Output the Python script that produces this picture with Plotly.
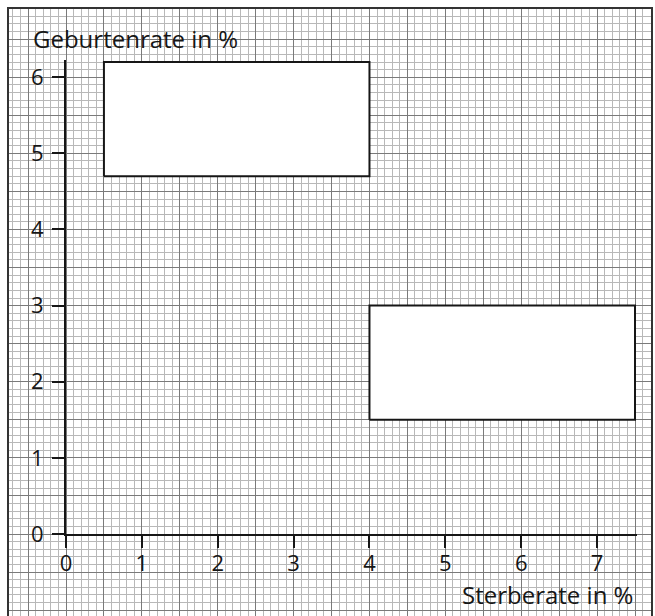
import plotly.graph_objects as go

# ---- data ----
x_tick_values = [0, 1, 2, 3, 4, 5, 6, 7]
y_tick_values = [0, 1, 2, 3, 4, 5, 6]
x_axis_max = 7.5
y_axis_max = 6.2
rect_x_start = [0.5, 4.0]
rect_x_end = [4.0, 7.5]
rect_y_start = [4.7, 1.5]
rect_y_end = [6.2, 3.0]
x_title = "Sterberate in %"
y_title = "Geburtenrate in %"

# ---- layout geometry (target pixels in a 655x616 picture) ----
W, H_TARGET = 655, 616
FIG_H = 630
ky = FIG_H / H_TARGET                 # vertical compensation
L, R = 9, 651
T, B = 9 * ky, FIG_H                  # graph-paper frame
X0PX, X1PX = 66, 635                  # x axis 0 .. 7.5
Y0PX, Y1PX = 534 * ky, 62 * ky        # y axis 0 .. 6.2
sx = (X1PX - X0PX) / x_axis_max
sy = (Y0PX - Y1PX) / y_axis_max
PW, PH = R - L, B - T

def dom_x(px):
    return (px - L) / PW

def dom_y(py):
    return (B - py) / PH

pad = 0.02
gx_range = [(L - X0PX) / sx, (R - X0PX) / sx]
gy_range = [(Y0PX - B) / sy, (Y0PX - T) / sy]

font = "Open Sans, Liberation Sans, sans-serif"
ink = "#161616"

fig = go.Figure()

# empty trace so the graph-paper subplot is created
fig.add_trace(go.Scatter(x=[], y=[], xaxis="x", yaxis="y",
                         hoverinfo="skip", showlegend=False))

# rectangles on the labelled axes
for xs, xe, ys, ye in zip(rect_x_start, rect_x_end, rect_y_start, rect_y_end):
    fig.add_trace(go.Scatter(
        x=[xs, xe, xe, xs, xs], y=[ys, ys, ye, ye, ys],
        mode="lines", fill="toself", fillcolor="white",
        line=dict(color=ink, width=2),
        xaxis="x2", yaxis="y2", hoverinfo="skip", showlegend=False))

fig.update_layout(
    width=W, height=FIG_H,
    autosize=False,
    margin=dict(l=L, r=W - R, t=T, b=FIG_H - B, pad=0),
    paper_bgcolor="white",
    plot_bgcolor="rgba(0,0,0,0)",
    showlegend=False,
    # graph paper
    xaxis=dict(domain=[0, 1], range=gx_range, anchor="y", side="top",
               tick0=0, dtick=0.5, showgrid=True, gridcolor="#7a7a7a", gridwidth=1,
               minor=dict(tick0=0, dtick=0.1, showgrid=True, gridcolor="#b8b8b8", gridwidth=1),
               showticklabels=False, ticks="", zeroline=False,
               showline=True, linecolor="#333", linewidth=2, mirror=False, fixedrange=True),
    yaxis=dict(domain=[0, 1], range=gy_range, anchor="x",
               tick0=0, dtick=0.5, showgrid=True, gridcolor="#7a7a7a", gridwidth=1,
               minor=dict(tick0=0, dtick=0.1, showgrid=True, gridcolor="#b8b8b8", gridwidth=1),
               showticklabels=False, ticks="", zeroline=False,
               showline=True, linecolor="#333", linewidth=2, mirror=True, fixedrange=True),
    # labelled axes
    xaxis2=dict(domain=[dom_x(X0PX), dom_x(X0PX + (x_axis_max + pad) * sx)],
                range=[0, x_axis_max + pad], anchor="y2",
                tickmode="array", tickvals=x_tick_values,
                ticktext=[str(v) for v in x_tick_values],
                ticks="outside", ticklen=12, tickwidth=2, tickcolor=ink,
                ticklabelstandoff=-3,
                showline=True, linecolor=ink, linewidth=2,
                showgrid=False, zeroline=False, fixedrange=True,
                tickfont=dict(family=font, size=22, color=ink)),
    yaxis2=dict(domain=[dom_y(Y0PX), dom_y(Y0PX - (y_axis_max + pad) * sy)],
                range=[0, y_axis_max + pad], anchor="x2",
                tickmode="array", tickvals=y_tick_values,
                ticktext=[str(v) for v in y_tick_values],
                ticks="outside", ticklen=12, tickwidth=2, tickcolor=ink,
                ticklabelstandoff=4,
                showline=True, linecolor=ink, linewidth=2,
                showgrid=False, zeroline=False, fixedrange=True,
                tickfont=dict(family=font, size=22, color=ink)),
    annotations=[
        dict(text=y_title, xref="paper", yref="paper",
             x=dom_x(31), y=dom_y(39 * ky), xanchor="left", yanchor="middle",
             showarrow=False, font=dict(family=font, size=24, color=ink)),
        dict(text=x_title, xref="paper", yref="paper",
             x=dom_x(635), y=dom_y(594 * ky), xanchor="right", yanchor="middle",
             showarrow=False, font=dict(family=font, size=24, color=ink)),
    ],
)

fig.write_html("out.html", config={"responsive": False, "displayModeBar": False},
               post_script="document.body.style.margin='0';document.body.style.overflow='hidden';")
